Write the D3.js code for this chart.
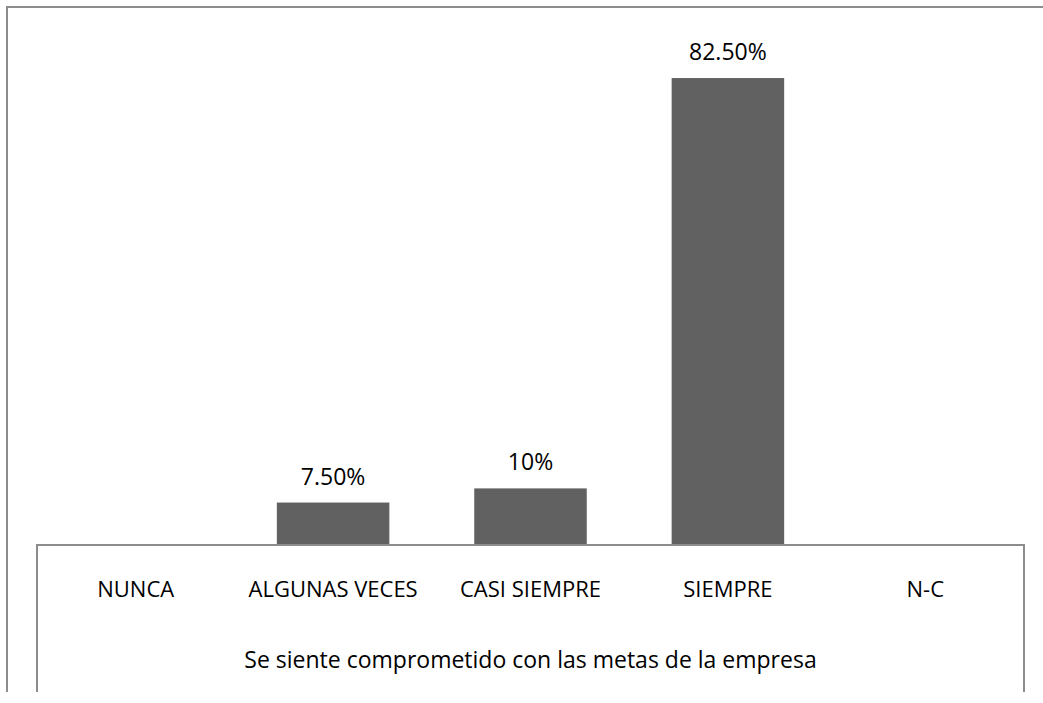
<!DOCTYPE html>
<html>
<head>
<meta charset="utf-8">
<script src="https://cdn.jsdelivr.net/npm/d3@7"></script>
<style>
  body { margin: 0; background: #fff; }
  svg { display: block; }
  text { font-family: "Open Sans", "Noto Sans", sans-serif; fill: #000; }
</style>
</head>
<body>
<div id="chart"></div>
<script>
// Datos
var categorias = ["NUNCA", "ALGUNAS VECES", "CASI SIEMPRE", "SIEMPRE", "N-C"];
var valores = [0, 7.5, 10, 82.5, 0];
var etiquetas = ["", "7.50%", "10%", "82.50%", ""];
var titulo = "Se siente comprometido con las metas de la empresa";

var W = 1043, H = 703;
var base = 545, left = 37, right = 1024, bottom = 692;

var svg = d3.select("#chart").append("svg")
  .attr("width", W)
  .attr("height", H);

// Escalas
var x = d3.scaleBand()
  .domain(categorias)
  .range([left, right])
  .paddingInner(0.43)
  .paddingOuter(0.215);
var y = d3.scaleLinear()
  .domain([0, 90])
  .range([base, 35.6]);

// Marco exterior
svg.append("path")
  .attr("d", "M7," + bottom + "V7H" + W)
  .attr("fill", "none")
  .attr("stroke", "#8c8c8c")
  .attr("stroke-width", 2);

// Barras
svg.selectAll(".bar")
  .data(valores)
  .enter()
  .append("rect")
  .attr("class", "bar")
  .attr("x", function(d, i) { return x(categorias[i]); })
  .attr("y", function(d) { return y(d); })
  .attr("width", x.bandwidth())
  .attr("height", function(d) { return base - y(d); })
  .attr("fill", "#616161");

// Etiquetas de valor
svg.selectAll(".lbl")
  .data(valores)
  .enter()
  .append("text")
  .attr("class", "lbl")
  .attr("x", function(d, i) { return x(categorias[i]) + x.bandwidth() / 2; })
  .attr("y", function(d) { return y(d) - 18; })
  .attr("text-anchor", "middle")
  .style("font-size", "23px")
  .text(function(d, i) { return etiquetas[i]; });

// Tabla del eje
svg.append("path")
  .attr("d", "M" + left + "," + bottom + "V" + base + "H" + right + "V" + bottom)
  .attr("fill", "none")
  .attr("stroke", "#8c8c8c")
  .attr("stroke-width", 2);

svg.selectAll(".cat")
  .data(categorias)
  .enter()
  .append("text")
  .attr("class", "cat")
  .attr("x", function(d) { return x(d) + x.bandwidth() / 2; })
  .attr("y", 597)
  .attr("text-anchor", "middle")
  .style("font-size", "22px")
  .text(function(d) { return d; });

svg.append("text")
  .attr("x", (left + right) / 2)
  .attr("y", 668)
  .attr("text-anchor", "middle")
  .style("font-size", "23px")
  .text(titulo);
</script>
</body>
</html>
